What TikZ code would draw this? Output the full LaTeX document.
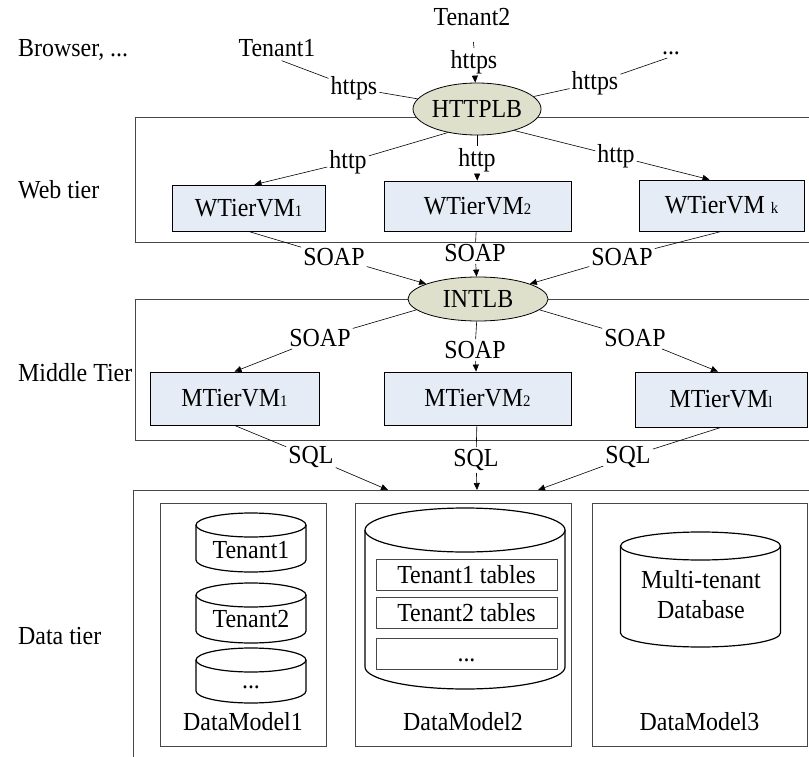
\documentclass[tikz,border=0pt]{standalone}
\usepackage{fontspec}
\setmainfont{Liberation Serif}[FakeStretch=0.92]
\usetikzlibrary{shapes.geometric,arrows.meta}
\definecolor{lbfill}{RGB}{222,224,204}
\definecolor{vmfill}{RGB}{230,236,246}
\definecolor{tierline}{RGB}{70,70,70}
\newcommand{\vmsub}[1]{{\fontsize{16}{16}\selectfont #1}}
\newcommand{\dbcyl}[5]{%
  \fill[white] (#1-#4,#2) -- (#1-#4,#3) arc[start angle=180,end angle=360,x radius=#4pt,y radius=#5pt] -- (#1+#4,#2) -- cycle;
  \draw[dbline] (#1-#4,#2) -- (#1-#4,#3) arc[start angle=180,end angle=360,x radius=#4pt,y radius=#5pt] -- (#1+#4,#2);
  \draw[dbline, fill=white] (#1,#2) ellipse[x radius=#4pt,y radius=#5pt];
}
\begin{document}
\begin{tikzpicture}[x=1pt,y=-1pt,
  every node/.style={font=\fontsize{26}{30}\selectfont, inner sep=2pt},
  lb/.style={ellipse, draw=black, fill=lbfill, line width=0.8pt, inner sep=0pt},
  vm/.style={draw=black, fill=vmfill, line width=0.8pt, inner sep=0pt},
  tier/.style={draw=tierline, line width=0.8pt},
  tbl/.style={draw=tierline, fill=white, line width=0.8pt, inner sep=0pt, minimum width=181pt, minimum height=31pt},
  conn/.style={draw=black, line width=0.6pt},
  arr/.style={conn, -{Triangle[length=7pt,width=6pt]}},
  dbline/.style={draw=black, line width=1.2pt},
]
\useasboundingbox (0,0) rectangle (809,757);
\clip (0,0) rectangle (809,757);

% tier boxes
\draw[tier] (135,117) rectangle (830,242);
\draw[tier] (135,299) rectangle (830,440);
\draw[tier] (133,490) rectangle (830,780);
% data model boxes
\draw[tier] (160,503) rectangle (326,746);
\draw[tier] (355,503) rectangle (571,746);
\draw[tier] (592,503) rectangle (807,746);

% cylinders
\dbcyl{251}{525}{560}{55}{12}
\dbcyl{251}{595}{631}{55}{12}
\dbcyl{251}{660}{691}{55}{12}
\dbcyl{465}{530}{667}{100}{22}
\dbcyl{700.5}{546}{633}{80}{14}

\node (c1) at (251,550) {Tenant1};
\node (c2) at (251,619) {Tenant2};
\node (c3) at (251,680) {\vphantom{T}...};
\node[tbl] (tb1) at (466.5,574.5) {Tenant1 tables};
\node[tbl] (tb2) at (466.5,612.5) {Tenant2 tables};
\node[tbl] (tb3) at (466.5,653.5) {\vphantom{T}...};
\node[align=center, font=\fontsize{26}{30}\selectfont] (mt) at (701,595) {Multi-tenant\\Database};
\node (dm1) at (243,722) {DataModel1};
\node (dm2) at (463,722) {DataModel2};
\node (dm3) at (699.5,722) {DataModel3};

% left labels
\node[anchor=west] (lbrowser) at (16,50) {Browser, ...};
\node[anchor=west] (lweb) at (16,190) {Web tier};
\node[anchor=west] (lmid) at (16,373) {Middle Tier};
\node[anchor=west] (ldata) at (16,636) {Data tier};

% top clients
\node (t1) at (277,48) {Tenant1};
\node (t2) at (472,17) {Tenant2};
\node (dots) at (671,53) {...};
\node (h1) at (354,88) {https};
\node (h2) at (474,62) {https};
\node (h3) at (595,83) {https};

% load balancers
\node[lb, minimum width=128pt, minimum height=52pt] (httplb) at (477,109) {HTTPLB};
\node[lb, minimum width=140pt, minimum height=44pt] (intlb) at (478,299) {INTLB};

% VMs
\node[vm, minimum width=153pt, minimum height=46pt] (w1) at (248.5,208) {WTierVM\vmsub{1}};
\node[vm, minimum width=187pt, minimum height=50pt] (w2) at (477.5,206) {WTierVM\vmsub{2}};
\node[vm, minimum width=165pt, minimum height=51pt] (wk) at (721.5,205.5) {WTierVM \vmsub{k}};
\node[vm, minimum width=169pt, minimum height=53pt] (m1) at (234.5,398.5) {MTierVM\vmsub{1}};
\node[vm, minimum width=187pt, minimum height=53pt] (m2) at (477.5,398.5) {MTierVM\vmsub{2}};
\node[vm, minimum width=172pt, minimum height=55pt] (m3) at (721,399.5) {MTierVM\vmsub{l}};

% connector labels
\node (hl1) at (348,162) {http};
\node (hl2) at (477,160) {http};
\node (hl3) at (616,156) {http};
\node (sl1) at (334,257) {SOAP};
\node (sl2) at (475,253) {SOAP};
\node (sl3) at (622,257) {SOAP};
\node (ml1) at (320,338) {SOAP};
\node (ml2) at (475,350) {SOAP};
\node (ml3) at (635,338) {SOAP};
\node (q1) at (311,457) {SQL};
\node (q2) at (476,460) {SQL};
\node (q3) at (628,457) {SQL};

\coordinate (d1) at (388,490);
\coordinate (d2) at (477,490);
\coordinate (d3) at (538,490);

% connectors: clients
\draw[conn, shorten <=5pt] (t1.south) -- (h1);
\draw[conn] (h1) -- (httplb);
\draw[conn, shorten <=14pt] (t2.south) -- (h2.north);
\draw[arr] (h2) -- (httplb);
\draw[conn, shorten <=4pt] (dots.south) -- (h3);
\draw[conn] (h3) -- (httplb);

% HTTPLB -> web VMs
\draw[conn] (httplb.219) -- (hl1);
\draw[arr] (hl1) -- ([xshift=6pt]w1.north);
\draw[conn] (httplb) -- (hl2);
\draw[arr] (hl2) -- (w2);
\draw[conn] (httplb.330) -- (hl3);
\draw[arr] (hl3) -- ([xshift=-12pt]wk.north);

% web VMs -> INTLB
\draw[conn] (w1.south) -- (sl1);
\draw[arr] (sl1) -- (intlb);
\draw[conn] (w2) -- (sl2);
\draw[arr] (sl2) -- (intlb);
\draw[conn] (wk.south) -- (sl3);
\draw[arr] (sl3) -- (intlb);

% INTLB -> middle VMs
\draw[conn] (intlb.190) -- (ml1);
\draw[arr] (ml1) -- (m1.north);
\draw[conn] (intlb) -- (ml2);
\draw[arr] (ml2) -- (m2);
\draw[conn] (intlb.350) -- (ml3);
\draw[arr] (ml3) -- ([xshift=-3pt]m3.north);

% middle VMs -> data tier
\draw[conn] (m1.south) -- (q1);
\draw[arr] (q1) -- (d1);
\draw[conn] (m2) -- (q2);
\draw[arr] (q2) -- (d2);
\draw[conn] (m3.south) -- (q3);
\draw[arr] (q3) -- (d3);
\end{tikzpicture}
\end{document}
